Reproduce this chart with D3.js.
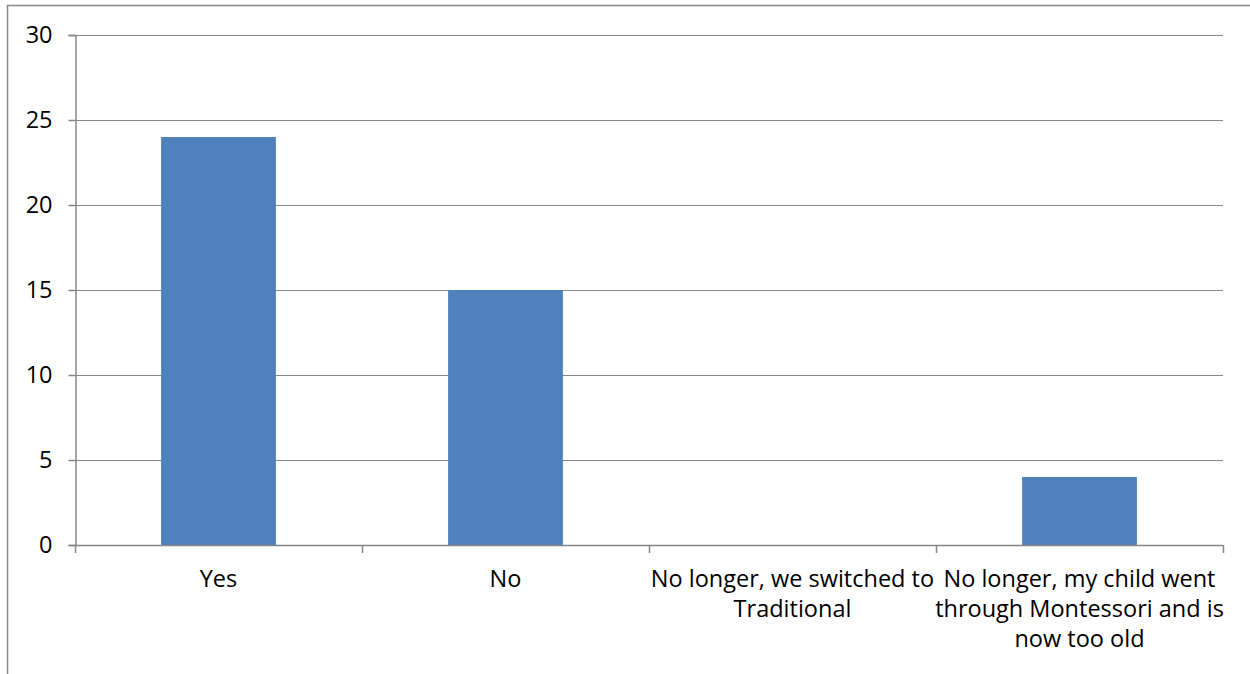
<!DOCTYPE html>
<html>
<head>
<meta charset="utf-8">
<script src="https://cdn.jsdelivr.net/npm/d3@7"></script>
<style>
  html, body { margin: 0; padding: 0; background: #fff; }
  svg { display: block; }
  text { font-family: "Open Sans", "Noto Sans", sans-serif; fill: #000; }
</style>
</head>
<body>
<svg id="chart" width="1250" height="674"></svg>
<script>
const categories = [
  "Yes",
  "No",
  "No longer, we switched to Traditional",
  "No longer, my child went through Montessori and is now too old"
];
const values = [24, 15, 0, 4];
const yTicks = [0, 5, 10, 15, 20, 25, 30];

const W = 1250, H = 674;
const margin = { left: 75, right: 27, top: 35, bottom: 129 };
const svg = d3.select("#chart");

// outer frame
svg.append("path")
  .attr("d", `M7.5,${H} V5.5 H${W}`)
  .attr("fill", "none")
  .attr("stroke", "#898989")
  .attr("stroke-width", 1.5);

const x = d3.scaleBand()
  .domain(categories)
  .range([margin.left, W - margin.right])
  .paddingInner(0.6)
  .paddingOuter(0.3);

const y = d3.scaleLinear()
  .domain([0, 30])
  .range([H - margin.bottom, margin.top]);

// gridlines
svg.append("g")
  .selectAll("line")
  .data(yTicks.filter(d => d > 0))
  .join("line")
  .attr("x1", margin.left).attr("x2", W - margin.right)
  .attr("y1", d => y(d) + 0.5).attr("y2", d => y(d) + 0.5)
  .attr("stroke", "#868686")
  .attr("stroke-width", 1.2);

// bars
svg.append("g")
  .selectAll("rect")
  .data(values)
  .join("rect")
  .attr("x", (d, i) => x(categories[i]))
  .attr("width", x.bandwidth())
  .attr("y", d => y(d))
  .attr("height", d => y(0) - y(d))
  .attr("fill", "#4F81BD");

const fs = 23.5, lh = 30;

// y axis
const yAxis = d3.axisLeft(y).tickValues(yTicks).tickSize(7).tickPadding(16);
const gy = svg.append("g")
  .attr("transform", `translate(${margin.left + 0.5},0)`)
  .call(yAxis);
gy.select(".domain").attr("stroke", "#868686").attr("stroke-width", 1.5);
gy.selectAll(".tick line").attr("stroke", "#868686").attr("stroke-width", 1.5);
gy.selectAll(".tick text")
  .style("font-size", fs + "px")
  .style("font-family", "'Open Sans', sans-serif")
  .attr("fill", "#000");

// x axis with boundary ticks
const x0 = margin.left, x1 = W - margin.right;
const step = (x1 - x0) / categories.length;
const gx = svg.append("g");
gx.append("line")
  .attr("x1", x0).attr("x2", x1)
  .attr("y1", y(0) + 0.5).attr("y2", y(0) + 0.5)
  .attr("stroke", "#868686").attr("stroke-width", 1.5);
gx.selectAll("line.tk")
  .data(d3.range(categories.length + 1))
  .join("line")
  .attr("class", "tk")
  .attr("x1", i => x0 + i * step + 0.5).attr("x2", i => x0 + i * step + 0.5)
  .attr("y1", y(0)).attr("y2", y(0) + 8)
  .attr("stroke", "#868686").attr("stroke-width", 1.5);

// category labels, wrapped to band step
categories.forEach((c, i) => {
  const cx = x(c) + x.bandwidth() / 2;
  const t = svg.append("text")
    .attr("x", cx)
    .attr("y", y(0) + 42)
    .attr("text-anchor", "middle")
    .style("font-size", fs + "px");
  const words = c.split(" ");
  let line = [];
  let tspan = t.append("tspan").attr("x", cx).attr("dy", 0);
  words.forEach(w => {
    line.push(w);
    tspan.text(line.join(" "));
    if (tspan.node().getComputedTextLength() > step + 14 && line.length > 1) {
      line.pop();
      tspan.text(line.join(" "));
      line = [w];
      tspan = t.append("tspan").attr("x", cx).attr("dy", lh).text(w);
    }
  });
});
</script>
</body>
</html>
